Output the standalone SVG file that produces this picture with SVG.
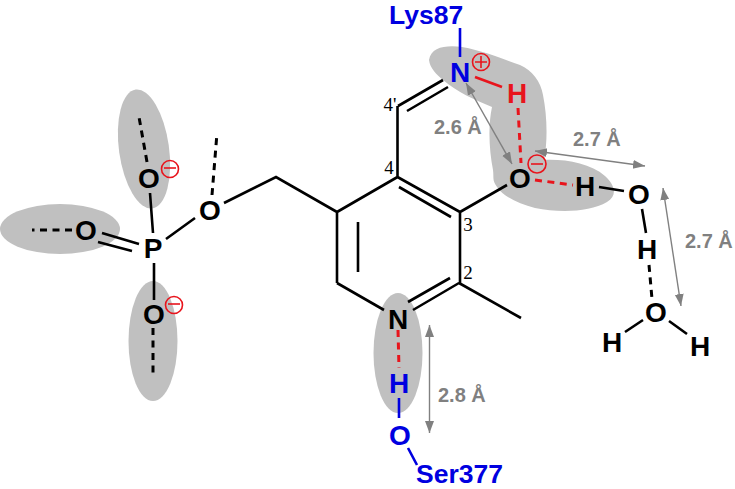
<svg xmlns="http://www.w3.org/2000/svg" width="735" height="489" viewBox="0 0 735 489">
<style>
.blob{fill:#c0c0c0;stroke:none}
.b{stroke:#000;stroke-width:2.600;fill:none;stroke-linecap:butt}
.d{stroke-dasharray:7 5.500;stroke-width:3}
.blue{stroke:#0000e0}
.red{stroke:#e8141c}
.arr{stroke:#808080;stroke-width:1.400;fill:none;marker-start:url(#ah);marker-end:url(#ah)}
.a{font:bold 28px "Liberation Sans",Arial,sans-serif;text-anchor:middle;fill:#000}
.ab{fill:#0000e0}
.ar{fill:#e8141c}
.res{font:bold 26.500px "Liberation Sans",Arial,sans-serif;fill:#0000e0}
.dist{font:bold 20px "Liberation Sans",Arial,sans-serif;fill:#808080}
.num{font:19px "Liberation Serif","Times New Roman",serif;fill:#000;text-anchor:middle}
.chg{fill:none;stroke:#e8141c;stroke-width:1.600}
</style>
<defs>
<marker id="ah" markerUnits="userSpaceOnUse" markerWidth="14" markerHeight="10" refX="12" refY="4.500" orient="auto-start-reverse"><path d="M0 0L12 4.500L0 9z" fill="#808080"/></marker>
</defs>
<g id="shading">
<ellipse class="blob" cx="144" cy="149" rx="25" ry="60" transform="rotate(-8 144 149)"/>
<ellipse class="blob" cx="60" cy="229" rx="60" ry="25"/>
<ellipse class="blob" cx="153" cy="341" rx="24.500" ry="60"/>
<ellipse class="blob" cx="398" cy="353" rx="24.500" ry="60"/>
<path class="blob" d="M429 60C431 47 446 45 462 47C485 51 505 60 520 65C532 70 541 82 543 95C547 115 548 140 544 160C565 159 590 163 605 176C616 186 617 196 607 202C590 212 560 213 535 208C518 204 503 196 497 187C492 180 494 178 493 170C489 150 488 125 492 107C475 100 457 92 443 80C436 74 430 68 429 60Z"/>
</g>
<g id="connectors">
<path class="b blue" d="M460 28V57"/>
<path class="b" d="M443 80L398 106M448 87L407 111M397.500 106V177M397.500 177L460 212M399 187L451 217M460 212L507 185M460 212V283M459 283L413 310M450 278L408 302M459 283L521 318M337 283L384 310M337 283V212M358 222V272M337 212L397.500 177M337 212L276 177L224 203M195 218L166 239M150 193L153 233M102 233L139 244M98 242L132 251M154 263V300"/>
<path class="b d" d="M212 195L217 133M147 162L139 117M72 230H32M153 328V373M649 265L652 299"/>
<path class="b red" d="M475 77L502 87"/>
<path class="b red d" d="M518 108L521 163M535 180L573 185M398 330L399 368"/>
<path class="b blue" d="M399 398V418M408 448L417 465"/>
<path class="b" d="M599 187L624 191M642 209L646 233M625 332L643 320M669 321L687 334"/>
<path class="arr" d="M466 83L512 164"/>
<path class="arr" d="M535 151L645 166"/>
<path class="arr" d="M663 188L681 306"/>
<path class="arr" d="M429.500 325V433"/>
</g>
<g id="lys87"><text class="res" x="389" y="24">Lys87</text></g>
<g id="n-imine"><text class="a ab" x="460" y="82">N</text><circle class="chg" cx="481" cy="62" r="8.500"/><path class="chg" d="M475 62H487M481 56V68"/></g>
<g id="h-imine"><text class="a ar" x="517" y="103">H</text></g>
<g id="o-phenolate"><text class="a" x="520" y="188">O</text><circle class="chg" cx="537" cy="164" r="9"/><path class="chg" d="M531 164H543"/></g>
<g id="h-water1"><text class="a" x="585" y="196">H</text></g>
<g id="o-water1"><text class="a" x="639" y="204">O</text></g>
<g id="h-water1b"><text class="a" x="647" y="259">H</text></g>
<g id="o-water2"><text class="a" x="656" y="322">O</text></g>
<g id="h-water2a"><text class="a" x="612" y="352">H</text></g>
<g id="h-water2b"><text class="a" x="700" y="356">H</text></g>
<g id="n-ring"><text class="a" x="398" y="329">N</text></g>
<g id="h-ser"><text class="a ab" x="399" y="393">H</text></g>
<g id="o-ser"><text class="a ab" x="400" y="445">O</text></g>
<g id="ser377"><text class="res" x="416" y="483">Ser377</text></g>
<g id="p"><text class="a" x="153" y="258">P</text></g>
<g id="o-ester"><text class="a" x="210" y="220">O</text></g>
<g id="o-top"><text class="a" x="149" y="188">O</text><circle class="chg" cx="170" cy="169" r="8.500"/><path class="chg" d="M164 168H176"/></g>
<g id="o-left"><text class="a" x="86" y="240">O</text></g>
<g id="o-bottom"><text class="a" x="154" y="324">O</text><circle class="chg" cx="174" cy="305" r="8.500"/><path class="chg" d="M168 304H180"/></g>
<g id="labels">
<text class="num" x="390" y="111">4'</text>
<text class="num" x="389" y="174">4</text>
<text class="num" x="468" y="231">3</text>
<text class="num" x="468" y="279">2</text>
<text class="dist" x="434" y="134">2.6 Å</text>
<text class="dist" x="573" y="146">2.7 Å</text>
<text class="dist" x="685" y="248">2.7 Å</text>
<text class="dist" x="438" y="402">2.8 Å</text>
</g>
</svg>
